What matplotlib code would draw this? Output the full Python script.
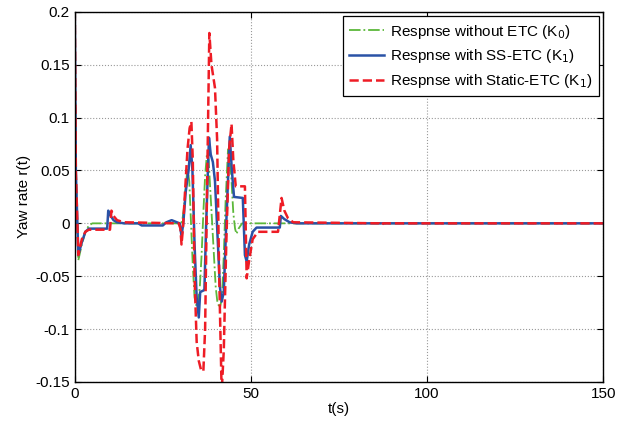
import numpy as np
import matplotlib
matplotlib.use('Agg')
import matplotlib.pyplot as plt
from matplotlib.ticker import FuncFormatter

plt.rcParams['font.family'] = ['Liberation Sans', 'DejaVu Sans']
plt.rcParams['axes.unicode_minus'] = False

# response without ETC (K0)
t_k0 = [0, 0.3, 1.0, 2, 3, 4, 5, 30, 30.5, 31, 31.5, 32, 32.5, 33, 33.5, 34,
        34.6, 35, 35.5, 36, 36.5, 37, 37.5, 38, 38.5, 39, 39.5, 40, 40.5, 41.2,
        41.8, 42.3, 42.8, 43.5, 44, 44.5, 45, 45.5, 45.9, 46.5, 47.5, 150]
y_k0 = [0.2, 0.05, -0.035, -0.02, -0.008, -0.002, 0, 0, 0.002, 0.015, 0.035,
        0.052, 0.04, 0.0, -0.04, -0.07, -0.079, -0.075, -0.06, -0.03, 0.01,
        0.045, 0.065, 0.06, 0.03, 0.0, -0.03, -0.06, -0.075, -0.080, -0.07,
        -0.03, 0.02, 0.07, 0.065, 0.04, 0.01, -0.005, -0.01, -0.005, 0, 0]

# response with SS-ETC (K1)
t_ss = [0, 0.3, 1.0, 2, 3, 4, 9.2, 9.5, 10, 11, 12, 14, 18, 19, 25, 26, 27.5,
        29, 29.8, 30.3, 30.8, 31.5, 32.3, 32.9, 33.4, 34, 34.6, 35.2, 35.6,
        36.8, 37.3, 38.1, 38.6, 39.2, 39.8, 40.5, 41.2, 41.7, 42.3, 43, 44,
        44.6, 45.2, 47.7, 48.3, 48.8, 49.5, 50.5, 51.6, 58.2, 58.5, 59.5, 61,
        63, 150]
y_ss = [0.2, 0.05, -0.030, -0.018, -0.008, -0.005, -0.005, 0.012, 0.008,
        0.003, 0.001, 0, 0, -0.002, -0.002, 0.001, 0.003, 0.001, 0, -0.012, 0,
        0.03, 0.05, 0.074, 0.05, -0.02, -0.07, -0.089, -0.065, -0.063, 0.0,
        0.081, 0.065, 0.058, 0.04, -0.01, -0.06, -0.074, -0.065, 0.0, 0.082,
        0.05, 0.025, 0.024, -0.03, -0.036, -0.02, -0.008, -0.004, -0.004,
        0.007, 0.004, 0.001, 0, 0]

# response with Static-ETC (K1)
t_st = [0, 0.3, 1.0, 2, 3, 4, 10.0, 10.4, 11, 12, 14, 29.5, 30.0, 30.3, 30.7,
        31.3, 32, 32.6, 33.1, 33.5, 34, 34.6, 35.2, 35.8, 36.5, 37.0, 37.5,
        38.2, 38.8, 39.8, 40.4, 41.0, 41.7, 42.3, 43.0, 43.8, 44.5, 45.0, 45.7,
        48.3, 48.8, 49.5, 50.5, 52, 57.7, 58.7, 59.5, 60.5, 62, 86.5, 87, 87.5,
        150]
y_st = [0.2, 0.05, -0.030, -0.015, -0.008, -0.006, -0.006, 0.012, 0.007,
        0.003, 0.001, 0, -0.005, -0.020, -0.005, 0.03, 0.07, 0.09, 0.096, 0.06,
        -0.05, -0.112, -0.13, -0.138, -0.140, -0.10, 0.02, 0.180, 0.15, 0.128,
        0.08, -0.05, -0.16, -0.12, -0.02, 0.07, 0.094, 0.06, 0.035, 0.035,
        -0.052, -0.035, -0.015, -0.008, -0.008, 0.024, 0.012, 0.005, 0.001, 0,
        -0.002, 0, 0]

labels = ['Respnse without ETC (K$_0$)',
          'Respnse with SS-ETC (K$_1$)',
          'Respnse with Static-ETC (K$_1$)']


def main():
    fig = plt.figure(figsize=(6.18, 4.23), dpi=100)
    ax = fig.add_axes([0.121, 0.097, 0.855, 0.875])

    ax.plot(t_k0, y_k0, color='#5cb83a', ls='-.', lw=1.3, label=labels[0])
    ax.plot(t_ss, y_ss, color='#2a52a6', ls='-', lw=1.8, label=labels[1])
    ax.plot(t_st, y_st, color='#ee1c25', ls='--', lw=1.8, label=labels[2])

    ax.set_xlim(0, 150)
    ax.set_ylim(-0.15, 0.2)
    ax.set_xticks([0, 50, 100, 150])
    ax.set_yticks(np.arange(-0.15, 0.2001, 0.05))
    ax.yaxis.set_major_formatter(FuncFormatter(lambda v, p: '%g' % round(v, 3)))
    ax.tick_params(direction='in', top=True, right=True, labelsize=11, length=4)
    ax.grid(True, ls=':', color='#999999', lw=0.8)
    for s in ax.spines.values():
        s.set_linewidth(1.0)

    ax.set_xlabel('t(s)', fontsize=11, labelpad=1)
    ax.set_ylabel('Yaw rate r(t)', fontsize=11, labelpad=3)

    leg = ax.legend(loc='upper right', fontsize=11, fancybox=False,
                    framealpha=1, edgecolor='black', handlelength=2.3,
                    handletextpad=0.4, borderpad=0.4, borderaxespad=0.3,
                    labelspacing=0.45)
    leg.get_frame().set_linewidth(0.9)

    plt.savefig('out.png')


if __name__ == '__main__':
    main()
